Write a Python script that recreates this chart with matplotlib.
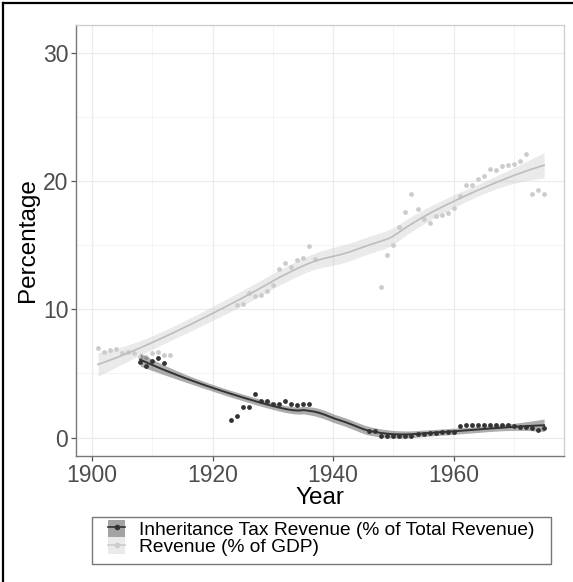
import numpy as np
import matplotlib
matplotlib.use("Agg")
import matplotlib.pyplot as plt
from matplotlib.patches import Patch, Rectangle
from matplotlib.lines import Line2D

plt.rcParams['font.family'] = ['Liberation Sans', 'DejaVu Sans']

# ---- data ----
gdp_years = [1901, 1902, 1903, 1904, 1905, 1906, 1907, 1908, 1909, 1910, 1911, 1912, 1913,
             1924, 1925, 1926, 1927, 1928, 1929, 1930, 1931, 1932, 1933, 1934, 1935, 1936, 1937,
             1948, 1949, 1950, 1951, 1952, 1953, 1954, 1955, 1956, 1957, 1958, 1959, 1960,
             1961, 1962, 1963, 1964, 1965, 1966, 1967, 1968, 1969, 1970, 1971, 1972, 1973,
             1974, 1975]
gdp_values = [7.0, 6.7, 6.8, 6.9, 6.6, 6.65, 6.55, 6.3, 6.3, 6.55, 6.65, 6.4, 6.4,
              10.3, 10.4, 11.3, 11.0, 11.1, 11.45, 11.85, 13.1, 13.6, 13.3, 13.8, 14.0, 14.9, 13.9,
              11.75, 14.2, 15.0, 16.4, 17.6, 19.0, 17.8, 17.0, 16.7, 17.3, 17.35, 17.5, 17.85,
              18.85, 19.7, 19.7, 20.15, 20.4, 20.95, 20.85, 21.15, 21.25, 21.35, 21.55, 22.1, 19.0,
              19.3, 18.95]

inh_years = [1908, 1909, 1910, 1911, 1912,
             1923, 1924, 1925, 1926, 1927, 1928, 1929, 1930, 1931, 1932, 1933, 1934, 1935, 1936,
             1946, 1947, 1948, 1949, 1950, 1951, 1952, 1953, 1954, 1955, 1956, 1957, 1958, 1959,
             1960, 1961, 1962, 1963, 1964, 1965, 1966, 1967, 1968, 1969, 1970, 1971, 1972, 1973,
             1974, 1975]
inh_values = [5.9, 5.6, 6.0, 6.2, 5.8,
              1.4, 1.7, 2.4, 2.4, 3.4, 2.85, 2.85, 2.6, 2.6, 2.85, 2.6, 2.55, 2.6, 2.6,
              0.48, 0.5, 0.15, 0.15, 0.15, 0.1, 0.1, 0.1, 0.27, 0.3, 0.35, 0.35, 0.4, 0.45,
              0.45, 0.92, 0.95, 0.95, 0.95, 0.95, 0.95, 0.95, 0.95, 0.95, 0.92, 0.8, 0.8, 0.75,
              0.6, 0.72]

series_labels = ["Inheritance Tax Revenue (% of Total Revenue)", "Revenue (% of GDP)"]


def loess(x, y, span=0.75, npts=80):
    x = np.asarray(x, float)
    y = np.asarray(y, float)
    n = len(x)
    k = int(np.ceil(span * n))
    grid = np.linspace(x.min(), x.max(), npts)

    def weights_row(x0):
        d = np.abs(x - x0)
        h = np.sort(d)[k - 1]
        u = np.clip(d / h, 0, 1)
        w = (1 - u ** 3) ** 3
        X = np.column_stack([np.ones(n), x - x0, (x - x0) ** 2])
        Wm = np.diag(w)
        A = X.T @ Wm @ X
        return np.linalg.solve(A, X.T @ Wm)[0]

    L = np.array([weights_row(xi) for xi in x])
    resid = y - L @ y
    I = np.eye(n)
    M = (I - L).T @ (I - L)
    d1 = np.trace(M)
    sigma2 = np.sum(resid ** 2) / d1
    fit, se = [], []
    for g in grid:
        l = weights_row(g)
        fit.append(l @ y)
        se.append(np.sqrt(sigma2 * np.sum(l ** 2)))
    fit = np.array(fit)
    se = np.array(se)
    return grid, fit, 1.98 * se


W, H = 573, 582
fig = plt.figure(figsize=(W / 100, H / 100), dpi=100)
ax = fig.add_axes([76 / W, 1 - 456 / H, (564 - 76) / W, (456 - 25) / H])

dark = "#333333"
light = "#CCCCCC"

# GDP series
gx, gf, gs = loess(gdp_years, gdp_values)
ax.fill_between(gx, gf - gs, gf + gs, color=light, alpha=0.4, lw=0, zorder=2)
ax.scatter(gdp_years, gdp_values, s=12, color=light, zorder=3, lw=0)
ax.plot(gx, gf, color="#BDBDBD", lw=1.2, zorder=4)

# Inheritance series
ix, i_f, i_s = loess(inh_years, inh_values)
ax.fill_between(ix, i_f - i_s, i_f + i_s, color=dark, alpha=0.4, lw=0, zorder=5)
ax.scatter(inh_years, inh_values, s=12, color=dark, zorder=6, lw=0)
ax.plot(ix, i_f, color=dark, lw=1.4, zorder=7)

ax.set_xlim(1897.35, 1978.3)
ax.set_ylim(-1.44, 32.15)
ax.set_xticks([1900, 1920, 1940, 1960])
ax.set_xticks([1910, 1930, 1950, 1970], minor=True)
ax.set_yticks([0, 10, 20, 30])
ax.set_yticks([5, 15, 25], minor=True)
ax.grid(which='major', color="#EBEBEB", lw=0.9, zorder=0)
ax.grid(which='minor', color="#F2F2F2", lw=0.6, zorder=0)
ax.set_axisbelow(True)
ax.tick_params(axis='both', which='major', labelsize=16.5, colors="#555555",
               labelcolor="#4D4D4D", length=3.5, width=0.9, pad=2)
ax.tick_params(axis='both', which='minor', length=0)
for s in ['top', 'right']:
    ax.spines[s].set_color("#CCCCCC")
    ax.spines[s].set_linewidth(0.9)
for s in ['left', 'bottom']:
    ax.spines[s].set_color("#777777")
    ax.spines[s].set_linewidth(1.0)

ax.set_xlabel("Year", fontsize=17.5, color="black", labelpad=0)
ax.set_ylabel("Percentage", fontsize=17.5, color="black", labelpad=3)

# legend (keys + labels), with a separate box drawn around it
fs = 13.8
h1 = (Patch(facecolor=dark, alpha=0.45, edgecolor='none'),
      Line2D([], [], color=dark, lw=1.2, marker='o', markersize=3))
h2 = (Patch(facecolor=light, alpha=0.4, edgecolor='none'),
      Line2D([], [], color=light, lw=1.2, marker='o', markersize=3))
leg = fig.legend([h1, h2], series_labels, loc='upper left',
                 bbox_to_anchor=(108 / W, 1 - 520 / H),
                 fontsize=fs, frameon=False, borderpad=0,
                 handlelength=0.9, handleheight=0.95, handletextpad=0.7,
                 labelspacing=-0.08, borderaxespad=0)
fig.add_artist(Rectangle((92 / W, 1 - 564 / H), (551 - 92) / W, (564 - 517) / H,
                         transform=fig.transFigure, fill=False,
                         edgecolor="#777777", lw=1.0))

# outer frame (left and top)
fig.add_artist(Line2D([0.006, 0.006], [0, 0.995], color='black', lw=1.6,
                      transform=fig.transFigure))
fig.add_artist(Line2D([0.006, 1.0], [0.995, 0.995], color='black', lw=1.6,
                      transform=fig.transFigure))

fig.savefig("out.png", dpi=100)
